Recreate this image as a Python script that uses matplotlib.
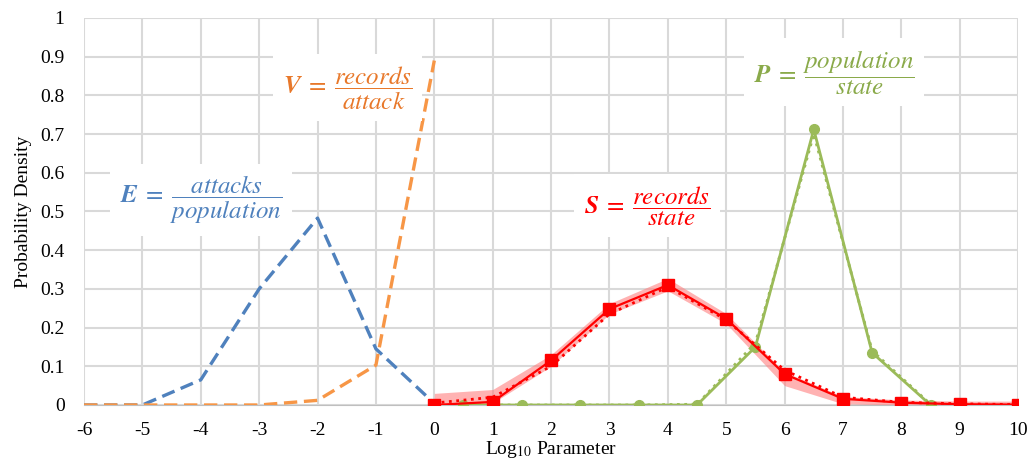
import numpy as np
import matplotlib.pyplot as plt

plt.rcParams['font.family'] = ['Liberation Serif', 'DejaVu Serif']
plt.rcParams['mathtext.fontset'] = 'stix'
plt.rcParams['axes.unicode_minus'] = False

# blue / orange: x from -6 to 0
x_ev = [-6, -5, -4, -3, -2, -1, 0]
e_vals = [0.0, 0.0, 0.065, 0.30, 0.483, 0.145, 0.004]
v_vals = [0.0, 0.0, 0.0, 0.0, 0.012, 0.103, 0.89]

# red: records / state
x_s = [0, 1, 2, 3, 4, 5, 6, 7, 8, 9, 10]
s_vals = [0.0, 0.008, 0.115, 0.248, 0.31, 0.223, 0.08, 0.016, 0.006, 0.002, 0.001]
s_fit = [0.005, 0.02, 0.1, 0.235, 0.305, 0.22, 0.09, 0.02, 0.007, 0.003, 0.001]
s_low = [0.0, 0.005, 0.1, 0.235, 0.295, 0.21, 0.05, 0.003, 0.0, 0.0, 0.0]
s_high = [0.03, 0.04, 0.13, 0.262, 0.327, 0.236, 0.085, 0.022, 0.013, 0.01, 0.01]

# green: population / state
x_p = [0.5, 1.5, 2.5, 3.5, 4.5, 5.5, 6.5, 7.5, 8.5]
p_vals = [0.0, 0.0, 0.0, 0.0, 0.0, 0.15, 0.712, 0.135, 0.0]
p_fit = [0.0, 0.0, 0.0, 0.0, 0.002, 0.16, 0.70, 0.14, 0.002]

blue = '#4F81BD'
orange = '#F79646'
red = '#FF0000'
green = '#9BBB59'

fig = plt.figure(figsize=(10.31, 4.61), dpi=100)
ax = fig.add_axes([0.0815, 0.1215, 0.906, 0.8395])

ax.fill_between(x_s, s_low, s_high, color='#FF8080', alpha=0.6, lw=0, zorder=2)
ax.plot(x_ev, e_vals, color=blue, lw=2.4, ls=(0, (4, 2)), zorder=3)
ax.plot(x_ev, v_vals, color=orange, lw=2.4, ls=(0, (4, 2)), zorder=3)
ax.plot(x_p, p_fit, color=green, lw=2, ls=':', zorder=3)
ax.plot(x_p, p_vals, color=green, lw=2, marker='o', ms=7, zorder=4)
ax.plot(x_s, s_fit, color=red, lw=2, ls=':', zorder=4)
ax.plot(x_s, s_vals, color=red, lw=1.6, marker='s', ms=8, zorder=5)

ax.set_xlim(-6, 10)
ax.set_ylim(0, 1)
ax.set_xticks(range(-6, 11))
ax.set_yticks(np.arange(0, 1.01, 0.1))
ax.set_yticklabels(['0', '0.1', '0.2', '0.3', '0.4', '0.5', '0.6', '0.7', '0.8', '0.9', '1'])
ax.grid(True, color='#D9D9D9', lw=1.5, zorder=0)
ax.set_axisbelow(True)
for s in ['top', 'right', 'left']:
    ax.spines[s].set_visible(False)
ax.spines['bottom'].set_color('#BFBFBF')
ax.tick_params(length=0, labelsize=14)
ax.tick_params(axis='x', pad=12)
ax.tick_params(axis='y', pad=14)
ax.set_ylabel('Probability Density', fontsize=14, labelpad=6)
ax.set_xlabel('Log$_{10}$ Parameter', fontsize=14, labelpad=0)

box = dict(facecolor='white', edgecolor='none', pad=7)
ax.text(-4.0, 0.53, r'$\mathbfit{E}\;=\;\dfrac{attacks}{population}$', color=blue,
        fontsize=18, ha='center', va='center', bbox=box, zorder=6)
ax.text(-1.48, 0.82, r'$\mathbfit{V}\;=\;\dfrac{records}{attack}$', color='#E8782A',
        fontsize=18, ha='center', va='center', bbox=box, zorder=6)
ax.text(3.65, 0.515, r'$\mathbfit{S}\;=\;\dfrac{records}{state}$', color=red,
        fontsize=18, ha='center', va='center', bbox=box, zorder=6)
ax.text(6.85, 0.86, r'$\mathbfit{P}\;=\;\dfrac{population}{state}$', color='#8AAA4A',
        fontsize=18, ha='center', va='center', bbox=box, zorder=6)

fig.savefig('out.png', dpi=100)
